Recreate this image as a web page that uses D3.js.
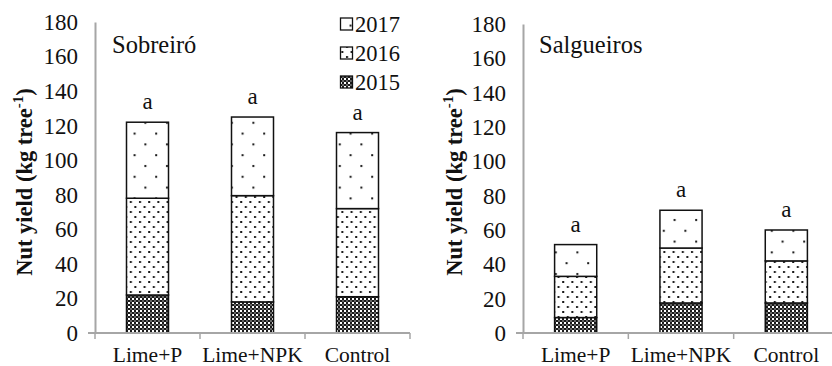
<!DOCTYPE html>
<html>
<head>
<meta charset="utf-8">
<script src="https://cdn.jsdelivr.net/npm/d3@7"></script>
<style>
  html, body { margin: 0; padding: 0; background: #fff; }
</style>
</head>
<body>
<svg id="chart" width="832" height="366"></svg>
<script>
// Treatments on the category axis
const categories = ["Lime+P", "Lime+NPK", "Control"];
const years = ["2015", "2016", "2017"];

// Sobreiró – nut yield per year (kg tree-1)
const sobreiro2015 = [22, 18, 21];
const sobreiro2016 = [56, 61.5, 51];
const sobreiro2017 = [44, 45.5, 44];
const sobreiroLetters = ["a", "a", "a"];

// Salgueiros – nut yield per year (kg tree-1)
const salgueiros2015 = [9, 17.5, 17.5];
const salgueiros2016 = [24, 32, 24.5];
const salgueiros2017 = [18.5, 22, 18];
const salgueirosLetters = ["a", "a", "a"];

const yTicks = [0, 20, 40, 60, 80, 100, 120, 140, 160, 180];

const SERIF = '"Liberation Serif"';

const svg = d3.select("#chart");
const defs = svg.append("defs");

// Fill patterns: checkerboard (2015), dense dots (2016), sparse dots (2017)
const chk = defs.append("pattern").attr("id", "p2015")
  .attr("patternUnits", "userSpaceOnUse").attr("width", 4).attr("height", 4);
chk.append("rect").attr("width", 4).attr("height", 4).attr("fill", "#fff");
chk.append("rect").attr("width", 2).attr("height", 2).attr("fill", "#1a1a1a");
chk.append("rect").attr("x", 2).attr("y", 2).attr("width", 2).attr("height", 2).attr("fill", "#1a1a1a");
chk.append("rect").attr("x", 2).attr("y", 0).attr("width", 2).attr("height", 2).attr("fill", "#666");

const dense = defs.append("pattern").attr("id", "p2016")
  .attr("patternUnits", "userSpaceOnUse").attr("width", 9.2).attr("height", 10);
dense.append("rect").attr("width", 9.2).attr("height", 10).attr("fill", "#fff");
dense.append("rect").attr("x", 1).attr("y", 1).attr("width", 2).attr("height", 2).attr("fill", "#1a1a1a");
dense.append("rect").attr("x", 5.6).attr("y", 6).attr("width", 2).attr("height", 2).attr("fill", "#1a1a1a");

const sparse = defs.append("pattern").attr("id", "p2017")
  .attr("patternUnits", "userSpaceOnUse").attr("width", 21.6).attr("height", 21.6);
sparse.append("rect").attr("width", 21.6).attr("height", 21.6).attr("fill", "#fff");
sparse.append("rect").attr("x", 4).attr("y", 3).attr("width", 2).attr("height", 2).attr("fill", "#1a1a1a");
sparse.append("rect").attr("x", 14.8).attr("y", 13.8).attr("width", 2).attr("height", 2).attr("fill", "#1a1a1a");

const fills = { "2015": "url(#p2015)", "2016": "url(#p2016)", "2017": "url(#p2017)" };

function drawPanel(cfg) {
  const rows = categories.map((c, i) => ({
    cat: c, "2015": cfg.v2015[i], "2016": cfg.v2016[i], "2017": cfg.v2017[i], letter: cfg.letters[i]
  }));
  const stacked = d3.stack().keys(years)(rows);

  const x = d3.scaleBand().domain(categories).range(cfg.xRange).paddingInner(0.6).paddingOuter(0.3);
  const y = d3.scaleLinear().domain([0, 180]).range(cfg.yRange);
  const g = svg.append("g");

  // Bars
  stacked.forEach(layer => {
    g.append("g").selectAll("rect").data(layer).join("rect")
      .attr("x", d => x(d.data.cat))
      .attr("y", d => y(d[1]))
      .attr("width", x.bandwidth())
      .attr("height", d => y(d[0]) - y(d[1]))
      .attr("fill", fills[layer.key])
      .attr("stroke", "#111")
      .attr("stroke-width", 1.5);
  });

  // Significance letters above each stack
  g.selectAll("text.letter").data(rows).join("text")
    .attr("class", "letter")
    .attr("x", d => x(d.cat) + x.bandwidth() / 2)
    .attr("y", d => y(d["2015"] + d["2016"] + d["2017"]) - 13)
    .attr("text-anchor", "middle")
    .style("font-family", SERIF)
    .attr("font-size", 23)
    .attr("fill", "#111")
    .text(d => d.letter);

  // Y axis
  const yAxis = g.append("g")
    .attr("transform", `translate(${cfg.xRange[0]},0)`)
    .call(d3.axisLeft(y).tickValues(yTicks).tickSize(0).tickPadding(17));
  yAxis.select(".domain").attr("stroke", "#a6a6a6").attr("stroke-width", 2);
  yAxis.selectAll("text").attr("font-size", 23).attr("fill", "#111")
    .style("font-family", SERIF);

  // X axis with boundary ticks between categories
  const x0 = cfg.xRange[0], x1 = cfg.xRange[1], yb = y(0);
  g.append("line").attr("x1", x0 - 7).attr("x2", x1).attr("y1", yb).attr("y2", yb)
    .attr("stroke", "#a6a6a6").attr("stroke-width", 2);
  const step = (x1 - x0) / categories.length;
  d3.range(categories.length + 1).forEach(i => {
    g.append("line").attr("x1", x0 + i * step).attr("x2", x0 + i * step)
      .attr("y1", yb).attr("y2", yb + 6).attr("stroke", "#a6a6a6").attr("stroke-width", 1.5);
  });
  g.selectAll("text.cat").data(categories).join("text")
    .attr("class", "cat")
    .attr("x", d => x(d) + x.bandwidth() / 2)
    .attr("y", 362)
    .attr("text-anchor", "middle")
    .style("font-family", SERIF)
    .attr("font-size", 21.5)
    .attr("fill", "#111")
    .text(d => d);

  // Y axis title
  const t = g.append("text")
    .attr("transform", `translate(${cfg.titleX},182) rotate(-90)`)
    .attr("text-anchor", "middle")
    .style("font-family", SERIF)
    .attr("font-size", 22.5)
    .attr("font-weight", "bold")
    .attr("fill", "#111");
  t.append("tspan").text("Nut yield (kg tree");
  t.append("tspan").attr("dy", -9).attr("font-size", 15).text("-1");
  t.append("tspan").attr("dy", 9).text(")");

  // Site name
  g.append("text").attr("x", cfg.siteX).attr("y", 53)
    .style("font-family", SERIF)
    .attr("font-size", 24.5).attr("fill", "#111").text(cfg.site);

  return { x, y, g };
}

drawPanel({
  site: "Sobreiró", siteX: 112, titleX: 32,
  xRange: [95, 410], yRange: [333, 22],
  v2015: sobreiro2015, v2016: sobreiro2016, v2017: sobreiro2017, letters: sobreiroLetters
});

drawPanel({
  site: "Salgueiros", siteX: 539, titleX: 462,
  xRange: [523, 839], yRange: [333, 24],
  v2015: salgueiros2015, v2016: salgueiros2016, v2017: salgueiros2017, letters: salgueirosLetters
});

// Legend (newest year on top)
const legend = svg.append("g");
const legendItems = ["2017", "2016", "2015"];
legendItems.forEach((yr, i) => {
  const cy = 24 + i * 29;
  legend.append("rect").attr("x", 340.5).attr("y", cy - 6).attr("width", 12).attr("height", 12)
    .attr("fill", fills[yr]).attr("stroke", "#111").attr("stroke-width", 1.3);
  legend.append("text").attr("x", 355).attr("y", cy + 8)
    .style("font-family", SERIF)
    .attr("font-size", 22.5).attr("fill", "#111").text(yr);
});
</script>
</body>
</html>
